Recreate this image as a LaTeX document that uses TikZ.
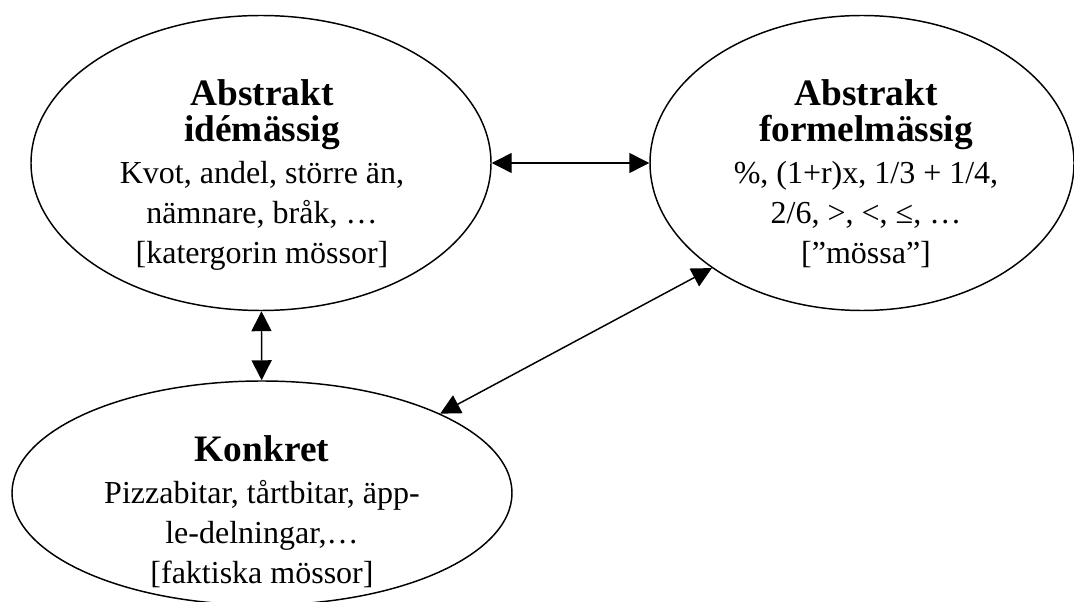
\documentclass[tikz,border=0pt]{standalone}
\usepackage{fontspec}
\setmainfont{Liberation Serif}
\usetikzlibrary{arrows.meta,shapes.geometric}
\tikzset{
    concept/.style={
        draw,
        ellipse,
        line width=1.1pt,
        inner sep=0pt
    },
    concept text/.style={
        align=center,
        inner sep=0pt,
        anchor=north,
        font=\fontsize{24}{27.4}\selectfont
    },
    concept link/.style={{Triangle[length=15pt,width=15pt]}-{Triangle[length=15pt,width=15pt]}, line width=1.1pt}
}

\begin{document}
\begin{tikzpicture}[x=0.75pt,y=-0.75pt]
    \useasboundingbox (0,0) rectangle (1074,602);

    \node[concept, minimum width=345pt, minimum height=221.25pt] (ide) at (261,163) {};
    \node[concept, minimum width=318pt, minimum height=221.25pt] (formel) at (862,163) {};
    \node[concept, minimum width=375pt, minimum height=168pt] (konkret) at (262,493) {};

    \node[concept text] (idetext) at (262,79) {{\fontsize{28}{30}\selectfont\bfseries Abstrakt}\\[-0.4pt]{\fontsize{28}{30}\selectfont\bfseries idémässig}\\[4pt]Kvot, andel, större än,\\[2.6pt]nämnare, bråk, …\\[2.6pt]{}[katergorin mössor]};
    \node[concept text] (formeltext) at (866,79) {{\fontsize{28}{30}\selectfont\bfseries Abstrakt}\\[-0.4pt]{\fontsize{28}{30}\selectfont\bfseries formelmässig}\\[4pt]\%, (1+r)x, 1/3 + 1/4,\\[2.6pt]2/6, >, <, ≤, …\\[2.6pt]{}[”mössa”]};
    \node[concept text] (konkrettext) at (262,435) {{\fontsize{28}{30}\selectfont\bfseries Konkret}\\[4pt]Pizzabitar, tårtbitar, äpp-\\[2.6pt]le-delningar,…\\[2.6pt]{}[faktiska mössor]};

    \draw[concept link] (ide) -- (formel);
    \draw[concept link] (ide) -- (konkret);
    \draw[concept link] (konkret.24) -- (formel.215);
\end{tikzpicture}
\end{document}
